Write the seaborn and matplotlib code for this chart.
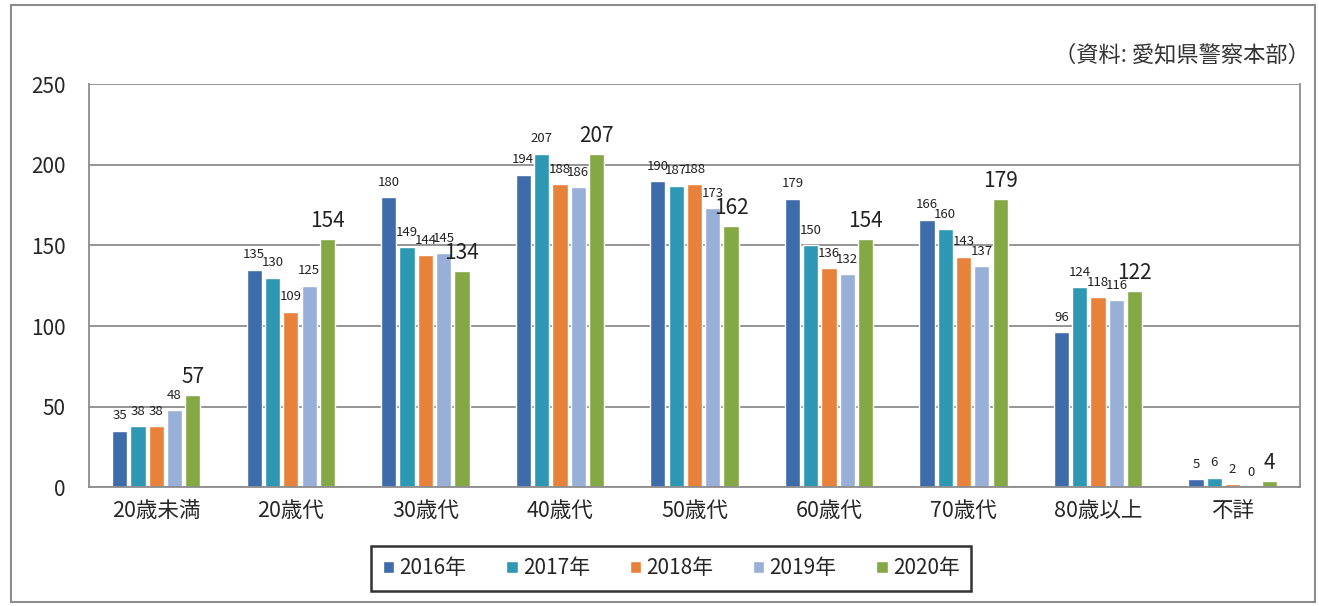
import pandas as pd
import numpy as np
import seaborn as sns
import matplotlib.pyplot as plt
from matplotlib.patches import Rectangle

age_groups = ['20歳未満', '20歳代', '30歳代', '40歳代', '50歳代', '60歳代', '70歳代', '80歳以上', '不詳']
years = ['2016年', '2017年', '2018年', '2019年', '2020年']
v2016 = [35, 135, 180, 194, 190, 179, 166, 96, 5]
v2017 = [38, 130, 149, 207, 187, 150, 160, 124, 6]
v2018 = [38, 109, 144, 188, 188, 136, 143, 118, 2]
v2019 = [48, 125, 145, 186, 173, 132, 137, 116, 0]
v2020 = [57, 154, 134, 207, 162, 154, 179, 122, 4]
colors = ['#3E6BAA', '#2E97B3', '#E8823A', '#98AFD7', '#83A844']

df = pd.DataFrame({'年代': age_groups * 5,
                   '年': np.repeat(years, len(age_groups)),
                   '人数': v2016 + v2017 + v2018 + v2019 + v2020})

sns.set_style('white')
plt.rcParams['font.family'] = ['Noto Sans CJK JP', 'DejaVu Sans']

fig = plt.figure(figsize=(13.19, 6.06), dpi=100)
ax = fig.add_axes([0.0675, 0.196, 0.918, 0.665])
sns.barplot(data=df, x='年代', y='人数', hue='年', palette=colors,
            width=0.68, gap=0.17, ax=ax, legend=True, saturation=1)

# 2020 labels are larger, like the original
for i, cont in enumerate(ax.containers):
    if i == 4:
        ax.bar_label(cont, fontsize=15, padding=5, color='#222222')
    else:
        ax.bar_label(cont, fontsize=9.5, padding=6, color='#222222')

ax.set_ylim(0, 250)
ax.set_yticks(range(0, 251, 50))
ax.set_xlim(-0.5, len(age_groups) - 0.5)
ax.yaxis.grid(True, color='#8c8c8c', linewidth=1.3)
ax.set_axisbelow(True)
for s in ['left', 'bottom', 'right']:
    ax.spines[s].set_color('#8c8c8c')
    ax.spines[s].set_linewidth(1.3)
ax.spines['top'].set_visible(False)
ax.set_xlabel('')
ax.set_ylabel('')
ax.tick_params(axis='x', which='major', length=0, labelsize=15.5, pad=9)
ax.set_xticks(np.arange(-0.5, len(age_groups), 1), minor=True)
ax.tick_params(axis='x', which='minor', length=5, color='#8c8c8c', width=1.3, direction='out')
ax.tick_params(axis='y', labelsize=15, length=5, color='#8c8c8c', width=1.3, direction='out', pad=12)

leg = ax.legend(loc='center', bbox_to_anchor=(0.509, 0.062), bbox_transform=fig.transFigure,
                ncol=5, frameon=True, fontsize=15, handlelength=0.55, handleheight=0.55,
                handletextpad=0.25, columnspacing=1.9, borderpad=0.55, fancybox=False)
leg.get_frame().set_edgecolor('black')
leg.get_frame().set_linewidth(1.8)

fig.text(0.993, 0.91, '（資料: 愛知県警察本部）', ha='right', va='center', fontsize=16, color='#333333')
fig.patches.append(Rectangle((0.008, 0.006), 0.989, 0.985, transform=fig.transFigure,
                             fill=False, edgecolor='#8c8c8c', linewidth=1.5))

fig.savefig('out.png', dpi=100)
